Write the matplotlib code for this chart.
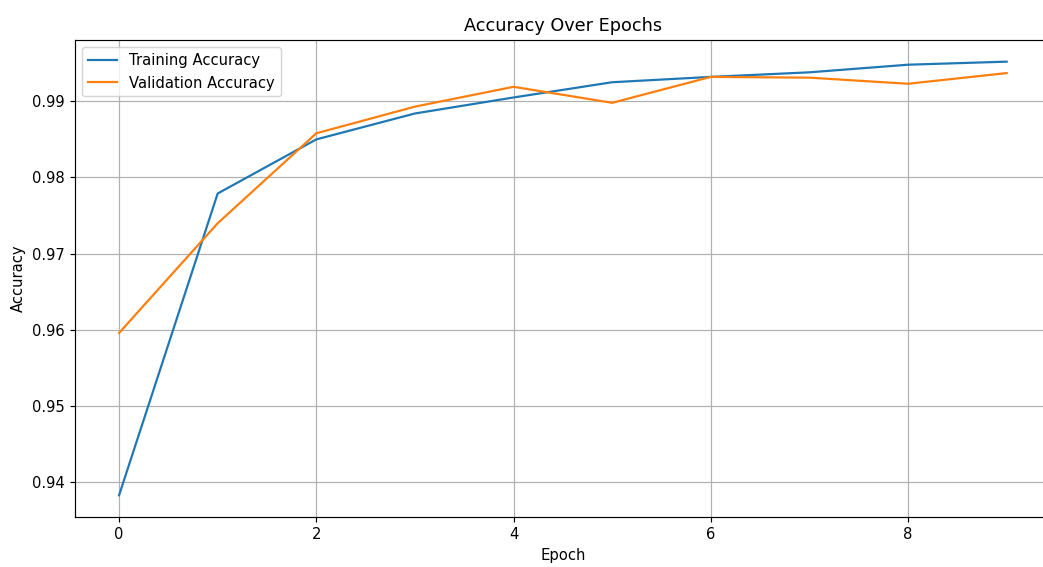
import numpy as np
import matplotlib
matplotlib.use("Agg")
import matplotlib.pyplot as plt

# accuracy per epoch
epochs = np.arange(10)
train_acc = [0.9383, 0.9779, 0.9850, 0.9884, 0.9905, 0.9925, 0.9932, 0.9938, 0.9948, 0.9952]
val_acc = [0.9596, 0.9740, 0.9858, 0.9893, 0.9919, 0.9898, 0.9932, 0.9931, 0.9923, 0.9937]

dpi = 106
fig = plt.figure(figsize=(1043 / dpi, 567 / dpi), dpi=dpi)
ax = fig.add_axes([0.0716, 0.0882, 0.9361, 0.8413])
ax.plot(epochs, train_acc, label="Training Accuracy")
ax.plot(epochs, val_acc, label="Validation Accuracy")
ax.set_title("Accuracy Over Epochs")
ax.set_xlabel("Epoch")
ax.set_ylabel("Accuracy")
ax.legend(loc="upper left")
ax.grid(True)
# the reference is cut off on the right, so its right spine is not shown
ax.spines["right"].set_visible(False)

fig.savefig("out.png", dpi=dpi)
